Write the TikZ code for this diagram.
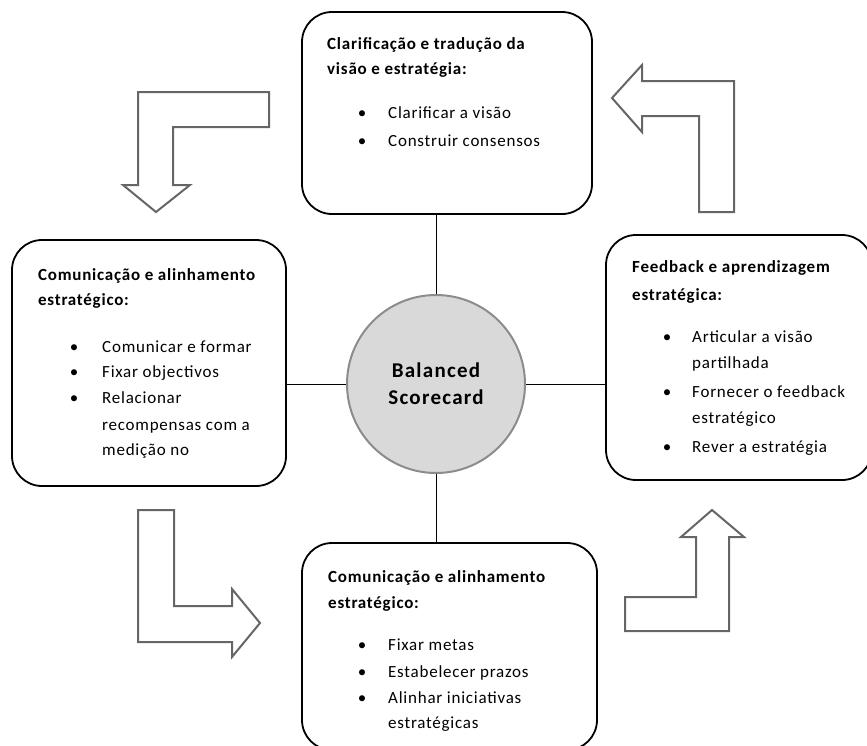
\documentclass[tikz,border=0pt]{standalone}
\usepackage{fontspec}
\setmainfont{Carlito}
\newfontfamily\panelfont[LetterSpace=4.5]{Carlito}
\newfontfamily\hubfont[LetterSpace=6]{Carlito}
\definecolor{arrowgray}{HTML}{666666}
\definecolor{hubfill}{HTML}{D9D9D9}
\definecolor{hubline}{HTML}{8C8C8C}
\begin{document}
\begin{tikzpicture}[x=1pt,y=-1pt,
  panel/.style={draw=black, line width=1.8pt, rounded corners=30pt, fill=white,
                inner sep=0pt, rectangle},
  turn/.style={draw=arrowgray, line width=2pt, fill=white, line join=miter},
  hd/.style={anchor=base west, inner sep=0pt, font=\panelfont\fontsize{17}{20}\selectfont\bfseries},
  itm/.style={anchor=base west, inner sep=0pt, font=\panelfont\fontsize{17}{20}\selectfont},
  dot/.style={anchor=base, inner sep=0pt, font=\fontsize{17}{20}\selectfont},
  link/.style={draw=black, line width=1pt}]
\useasboundingbox (0,0) rectangle (867,745);

% four stage panels
\node[panel, minimum width=290pt, minimum height=202pt] (top) at (447,113) {};
\node[panel, minimum width=274pt, minimum height=246pt] (left) at (149,363) {};
\node[panel, minimum width=266pt, minimum height=245pt] (right) at (739,357.5) {};
\node[panel, minimum width=295pt, minimum height=207pt] (bot) at (449.5,646.5) {};

% central hub
\node[circle, draw=hubline, fill=hubfill, line width=2pt, minimum size=178pt,
      inner sep=0pt, align=center, font=\hubfont\fontsize{21}{27}\selectfont\bfseries]
      (circ) at (436,384) {Balanced\\Scorecard};

% spokes
\draw[link] (circ.north) -- (circ.north |- top.south);
\draw[link] (circ.south) -- (circ.south |- bot.north);
\draw[link] (circ.west) -- (circ.west -| left.east);
\draw[link] (circ.east) -- (circ.east -| right.west);

% bent block arrows (clockwise cycle)
\draw[turn] (138,92) -- (269,92) -- (269,127) -- (173,127) -- (173,185) -- (190,185)
  -- (156,212) -- (123,185) -- (138,185) -- cycle;
\draw[turn] (612,98) -- (642,65) -- (642,81) -- (734,81) -- (734,212) -- (699,212)
  -- (699,116) -- (642,116) -- (642,132) -- cycle;
\draw[turn] (138,510) -- (174,510) -- (174,606) -- (232,606) -- (232,589) -- (260,623)
  -- (232,657) -- (232,642) -- (138,642) -- cycle;
\draw[turn] (712,510) -- (744,537) -- (729,537) -- (729,631) -- (625,631) -- (625,597)
  -- (696,597) -- (696,537) -- (681,537) -- cycle;

% top panel text
\node[hd] (tA) at (327,49) {Clarificação e tradução da};
\node[hd] (tB) at (327,74) {visão e estratégia:};
\node[dot] (tC) at (362,118) {\textbullet};
\node[itm] (tD) at (388,118) {Clarificar a visão};
\node[dot] (tE) at (362,146) {\textbullet};
\node[itm] (tF) at (388,146) {Construir consensos};

% left panel text
\node[hd] (lA) at (38,280) {Comunicação e alinhamento};
\node[hd] (lB) at (38,305) {estratégico:};
\node[dot] (lC) at (74,352) {\textbullet};
\node[itm] (lD) at (102,352) {Comunicar e formar};
\node[dot] (lE) at (74,377) {\textbullet};
\node[itm] (lF) at (102,377) {Fixar objectivos};
\node[dot] (lG) at (74,403) {\textbullet};
\node[itm] (lH) at (102,403) {Relacionar};
\node[itm] (lI) at (102,430) {recompensas com a};
\node[itm] (lJ) at (102,455) {medição no};

% right panel text
\node[hd] (rA) at (632,272) {Feedback e aprendizagem};
\node[hd] (rB) at (632,300) {estratégica:};
\node[dot] (rC) at (667,342) {\textbullet};
\node[itm] (rD) at (692,342) {Articular a visão};
\node[itm] (rE) at (692,368) {partilhada};
\node[dot] (rF) at (667,397) {\textbullet};
\node[itm] (rG) at (692,397) {Fornecer o feedback};
\node[itm] (rH) at (692,423) {estratégico};
\node[dot] (rI) at (667,452) {\textbullet};
\node[itm] (rJ) at (692,452) {Rever a estratégia};

% bottom panel text
\node[hd] (bA) at (328,582) {Comunicação e alinhamento};
\node[hd] (bB) at (328,608) {estratégico:};
\node[dot] (bC) at (362,650) {\textbullet};
\node[itm] (bD) at (388,650) {Fixar metas};
\node[dot] (bE) at (362,677) {\textbullet};
\node[itm] (bF) at (388,677) {Estabelecer prazos};
\node[dot] (bG) at (362,703) {\textbullet};
\node[itm] (bH) at (388,703) {Alinhar iniciativas};
\node[itm] (bI) at (388,728) {estratégicas};
\end{tikzpicture}
\end{document}
